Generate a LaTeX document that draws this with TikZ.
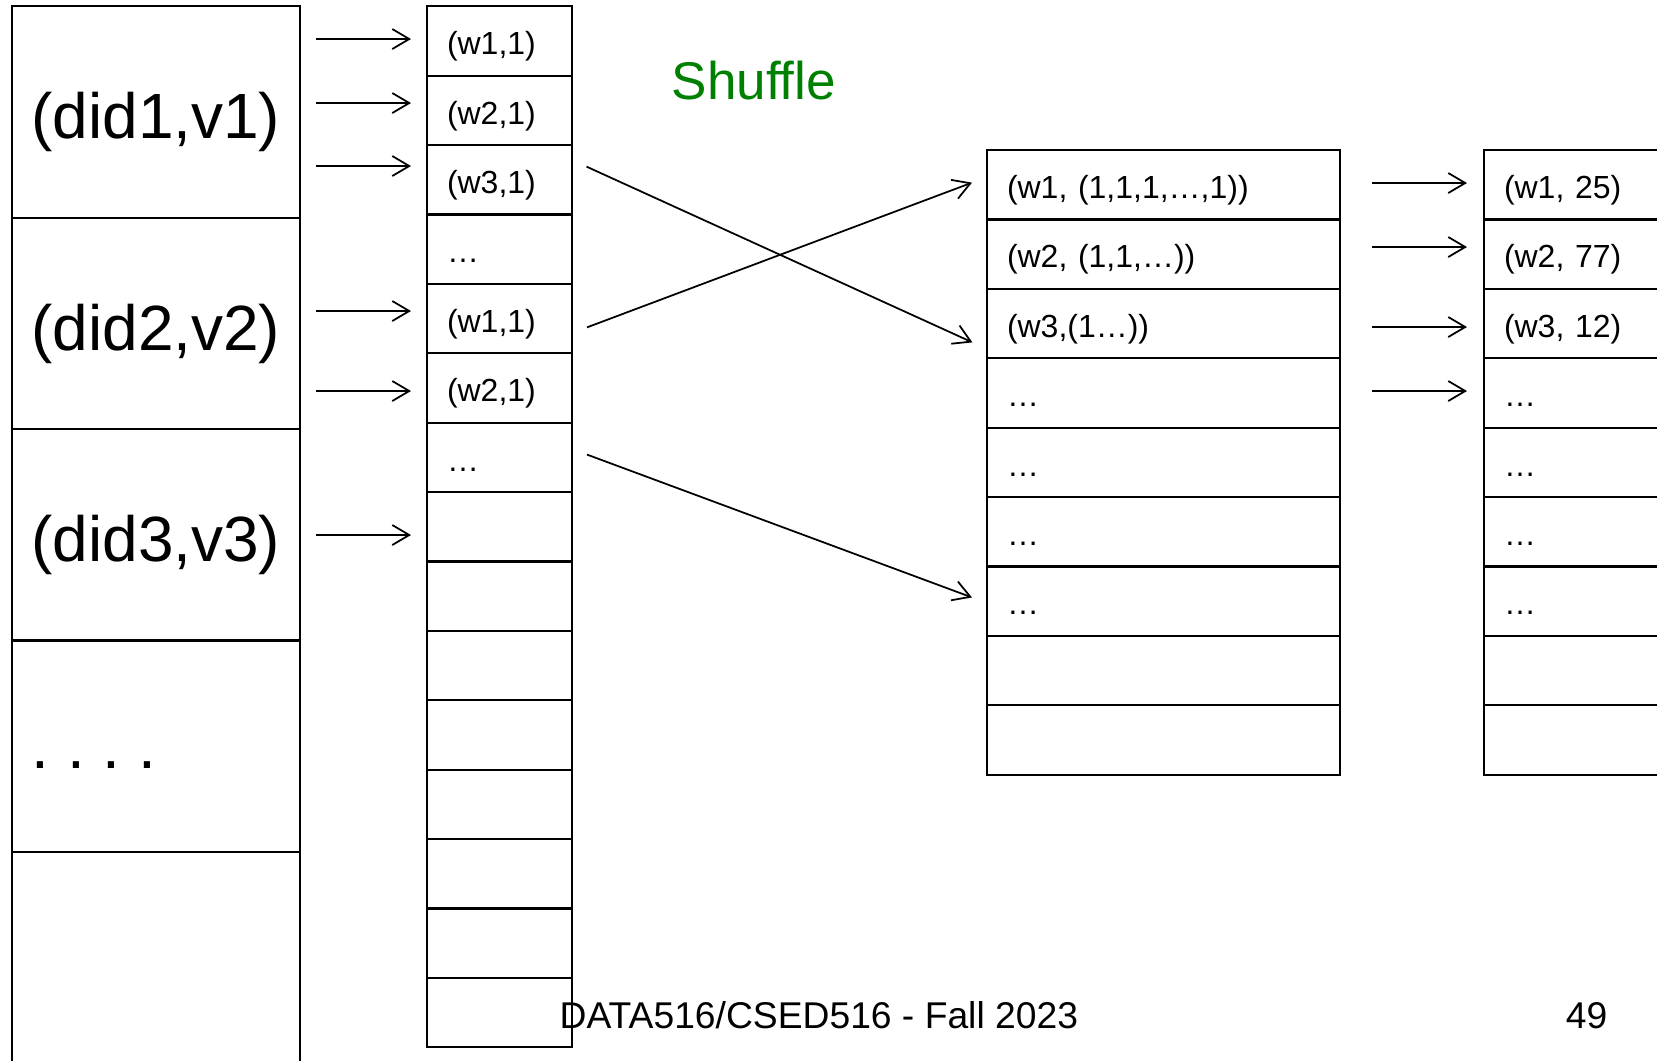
\documentclass[tikz,border=0pt]{standalone}
\usepackage{fontspec}
\setmainfont{Liberation Sans}
\usetikzlibrary{positioning}
\usetikzlibrary{arrows.meta}
\definecolor{shufflegreen}{RGB}{0,128,0}
\tikzset{%
  box/.style = {rectangle,draw,line width=0.6pt,outer sep=0pt,inner sep=0pt},
  doctext/.style = {inner sep=0pt,font=\fontsize{18.2}{22}\selectfont,
        text height=17.2pt,text depth=2pt},
  doc/.style = {box,doctext,minimum width=28.85mm,minimum height=21.14mm},
  kv/.style = {box,minimum height=6.94mm,inner xsep=2mm,align=left,
        font=\fontsize{9.1}{11}\selectfont,text height=9.8pt,text depth=2pt},
  mapcell/.style = {kv,text width=10.5mm},
  groupcell/.style = {kv,text width=31.3mm},
  arrow/.style = {-{Straight Barb[length=1.7mm,width=2mm]},line width=0.5pt}
}

\begin{document}
\frenchspacing
\begin{tikzpicture}[x=0.1mm,y=-0.1mm]
   \useasboundingbox (0,0) rectangle (1657,1060);
   \clip (0,0) rectangle (1657,1060);
   % documents
   \node[doc,anchor=north west] (d1) at (11.6,6.3) {(did1,v1)};
   \node[doc] (d2) [below=0pt of d1] {(did2,v2)};
   \node[doc] (d3) [below=0pt of d2] {(did3,v3)};
   \node[doc] (d4) [below=0pt of d3] {};
   \node[doc] (d5) [below=0pt of d4] {};
   \node[doctext,anchor=base west] (dots) at ([xshift=1.96mm,yshift=-2.23mm]d4.west) {. . . .};
   % map output
   \foreach \lbl [count=\i] in {{(w1,1)},{(w2,1)},{(w3,1)},…,{(w1,1)},{(w2,1)},…,{},{},{},{},{},{},{},{}}{
      \pgfmathtruncatemacro\prev{\i-1}
      \ifnum\i=1
         \node[mapcell,anchor=north west] (m1) at (427,6.3) {\lbl};
      \else
         \node[mapcell] (m\i) [below=0pt of m\prev] {\lbl};
      \fi
   }
   % grouped
   \foreach \lbl [count=\i] in {{(w1, (1,1,1,…,1))},{(w2, (1,1,…))},{(w3,(1…))},…,…,…,…,{},{}}{
      \pgfmathtruncatemacro\prev{\i-1}
      \ifnum\i=1
         \node[groupcell,anchor=north west] (g1) at (987,150.1) {\lbl};
      \else
         \node[groupcell] (g\i) [below=0pt of g\prev] {\lbl};
      \fi
   }
   % reduce output
   \foreach \lbl [count=\i] in {{(w1, 25)},{(w2, 77)},{(w3, 12)},…,…,…,…,{},{}}{
      \pgfmathtruncatemacro\prev{\i-1}
      \ifnum\i=1
         \node[groupcell,anchor=north west] (r1) at (1484,150.1) {\lbl};
      \else
         \node[groupcell] (r\i) [below=0pt of r\prev] {\lbl};
      \fi
   }
   \node[text=shufflegreen,font=\fontsize{15.1}{18}\selectfont,anchor=base west,inner sep=0pt]
      (shuffle) at (671,99) {Shuffle};
   \node[font=\fontsize{10.6}{13}\selectfont,anchor=base west,inner sep=0pt]
      (footer) at (559,1028) {DATA516/CSED516 - Fall 2023};
   \node[font=\fontsize{10.6}{13}\selectfont,anchor=base east,inner sep=0pt]
      (page) at (1608,1028) {49};
   % map arrows
   \foreach \d/\m/\y in {1/1/39,1/2/103,1/3/166,2/5/311,2/6/391,3/8/535}
      \draw[arrow,shorten <=1.6mm,shorten >=1.6mm] (d\d.east |- 0,\y) -- (m\m.west |- 0,\y);
   % shuffle arrows
   \draw[arrow,shorten <=1.6mm,shorten >=1.6mm] (m3.east |- 0,160) -- (g3.west |- 0,349);
   \draw[arrow,shorten <=1.6mm,shorten >=1.6mm] (m5.east |- 0,333) -- (g1.west |- 0,177);
   \draw[arrow,shorten <=1.6mm,shorten >=1.6mm] (m7.east |- 0,449) -- (g7.west |- 0,603);
   % reduce arrows
   \foreach \g/\y in {1/183,2/247,3/327,4/391}
      \draw[arrow,shorten <=3.2mm,shorten >=1.7mm] (g\g.east |- 0,\y) -- (r\g.west |- 0,\y);
\end{tikzpicture}
\end{document}
